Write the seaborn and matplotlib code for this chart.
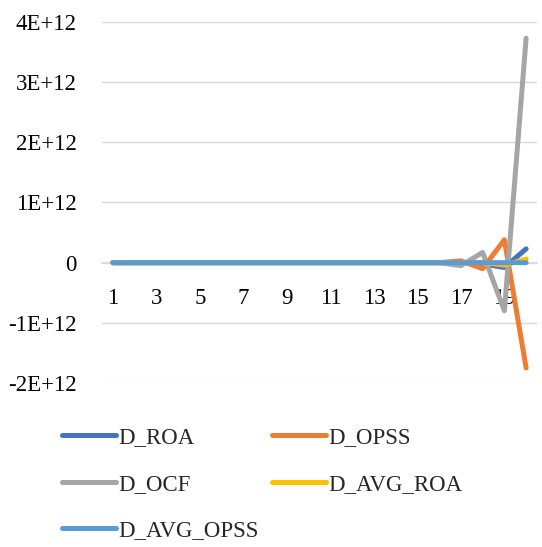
import matplotlib
matplotlib.use("Agg")
import matplotlib.pyplot as plt
import seaborn as sns
import pandas as pd
import numpy as np

periods = list(range(1, 21))
D_ROA = [0, 0, 0, 0, 0, 0, 0, 0, 0, 0, 0, 0, 0, 0, 0, 0, 0, -0.02e12, -0.08e12, 0.23e12]
D_OPSS = [0, 0, 0, 0, 0, 0, 0, 0, 0, 0, 0, 0, 0, 0, 0, 0, 0.03e12, -0.10e12, 0.38e12, -1.75e12]
D_OCF = [0, 0, 0, 0, 0, 0, 0, 0, 0, 0, 0, 0, 0, 0, 0, 0, -0.05e12, 0.17e12, -0.80e12, 3.73e12]
D_AVG_ROA = [0, 0, 0, 0, 0, 0, 0, 0, 0, 0, 0, 0, 0, 0, 0, 0, 0, 0, -0.04e12, 0.06e12]
D_AVG_OPSS = [0] * 20

series_names = ["D_ROA", "D_OPSS", "D_OCF", "D_AVG_ROA", "D_AVG_OPSS"]
colors = ["#4472C4", "#ED7D31", "#A5A5A5", "#FFC000", "#5B9BD5"]
x_tick_values = [1, 3, 5, 7, 9, 11, 13, 15, 17, 19]
y_tick_values = [-2e12, -1e12, 0, 1e12, 2e12, 3e12, 4e12]
y_tick_labels = ["-2E+12", "-1E+12", "0", "1E+12", "2E+12", "3E+12", "4E+12"]

df = pd.DataFrame({"period": periods, "D_ROA": D_ROA, "D_OPSS": D_OPSS,
                   "D_OCF": D_OCF, "D_AVG_ROA": D_AVG_ROA, "D_AVG_OPSS": D_AVG_OPSS})

sns.set_theme(style="white")
plt.rcParams["font.family"] = ["Liberation Serif", "DejaVu Serif"]

fig = plt.figure(figsize=(5.42, 5.47), dpi=100)
ax = fig.add_axes([102 / 542, 1 - 383 / 547, (537 - 102) / 542, (383 - 22) / 547])

handles = {}
for i, (name, col) in enumerate(zip(series_names, colors)):
    sns.lineplot(data=df, x="period", y=name, color=col, linewidth=3.6, ax=ax,
                 label=name, zorder=3 + i)
    ln = ax.get_lines()[-1]
    ln.set_solid_capstyle("round")
    ln.set_solid_joinstyle("round")
    ln.set_snap(False)
    handles[name] = ln

ax.set_xlim(0.5, 20.5)
ax.set_ylim(-2e12, 4e12)
ax.set_yticks(y_tick_values)
ax.set_yticklabels(y_tick_labels)
ax.set_xticks(x_tick_values)
ax.set_xticklabels([str(v) for v in x_tick_values])
ax.set_xlabel("")
ax.set_ylabel("")
ax.grid(axis="y", color="#D9D9D9", linewidth=1.0)
ax.set_axisbelow(True)
for s in ["top", "right", "left"]:
    ax.spines[s].set_visible(False)
ax.spines["bottom"].set_position(("data", 0))
ax.spines["bottom"].set_color("#D9D9D9")
ax.spines["bottom"].set_zorder(0.5)
ax.tick_params(axis="y", length=0, pad=18, labelsize=16.5, labelcolor="black")
ax.tick_params(axis="x", length=0, pad=18.5, labelsize=16.5, labelcolor="black")

order = ["D_ROA", "D_OCF", "D_AVG_OPSS", "D_OPSS", "D_AVG_ROA"]
leg = ax.legend([handles[n] for n in order], order, ncol=2, frameon=False, fontsize=16.5,
                handlelength=2.35, handletextpad=0.1, columnspacing=0.6,
                labelspacing=1.12, borderpad=0, borderaxespad=0,
                loc="upper left", bbox_to_anchor=(62 / 542, 1 - 427 / 547),
                bbox_transform=fig.transFigure)
for h in leg.get_lines():
    h.set_linewidth(3.6)
    h.set_solid_capstyle("round")

fig.savefig("out.png", dpi=100)
